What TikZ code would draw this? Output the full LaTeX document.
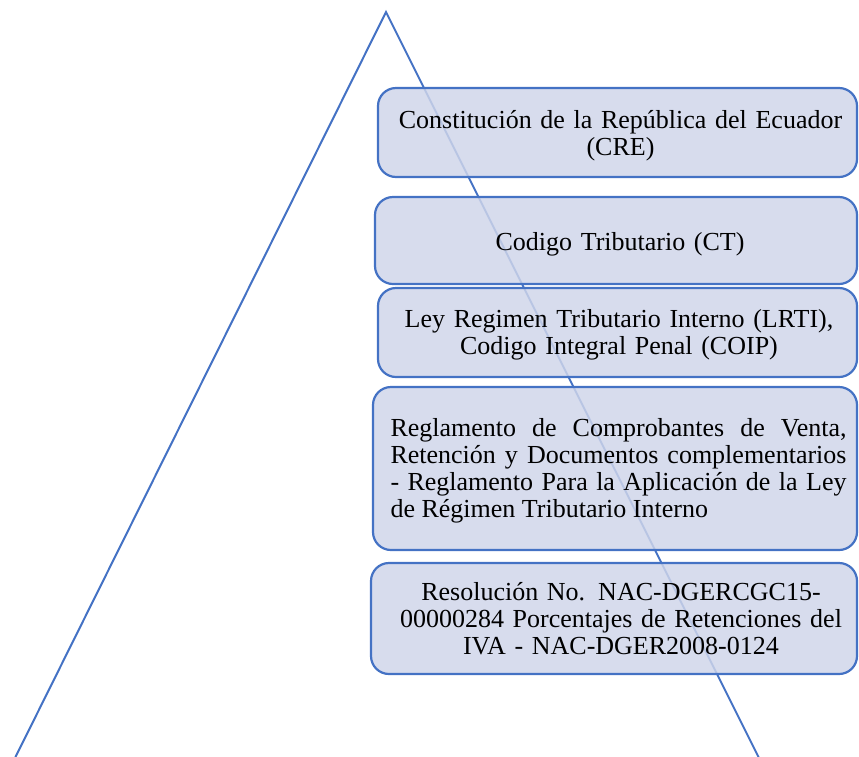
\documentclass[tikz,border=0pt]{standalone}
\usepackage{fontspec}
\setmainfont{Liberation Serif}
\definecolor{edgeblue}{HTML}{4472C4}
\definecolor{boxfill}{HTML}{CFD5EA}
\begin{document}
\begin{tikzpicture}[x=1pt,y=-1pt,
  lvl/.style={draw=edgeblue, line width=2.2pt, fill=boxfill, fill opacity=0.84,
    rounded corners=18pt, inner sep=0pt},
  lvltext/.style={inner sep=0pt, align=center, anchor=base,
    font=\fontsize{26}{27.3}\selectfont},
  ridge/.style={draw=edgeblue, line width=2pt}]
\useasboundingbox (0,0) rectangle (859,756);
\clip (0,0) rectangle (859,756);
% pyramid outline
\coordinate (apex) at (386,12);
\coordinate (bl) at (13,762);
\coordinate (br) at (761,762);
\draw[ridge] (bl) -- (apex) -- (br);
% levels of the hierarchy
\node[lvl, minimum width=479pt, minimum height=89pt] (cre) at (617.5,132.5) {};
\node[lvl, minimum width=482pt, minimum height=87pt] (ct) at (616,240.5) {};
\node[lvl, minimum width=479pt, minimum height=89pt] (lrti) at (617.5,332.5) {};
\node[lvl, minimum width=484pt, minimum height=163pt] (regl) at (615,468.5) {};
\node[lvl, minimum width=486pt, minimum height=111pt] (res) at (614,618.5) {};
% texts of the levels, placed by the baseline of their first line
\node[lvltext, text width=470pt] (cret) at (620.5,128)
  {Constitución de la República del Ecuador\\(CRE)};
\node[lvltext, text width=470pt] (ctt) at (620,250)
  {Codigo Tributario (CT)};
\node[lvltext, text width=470pt] (lrtit) at (619,327)
  {Ley Regimen Tributario Interno (LRTI),\\Codigo Integral Penal (COIP)};
\node[lvltext, text width=456pt, align=justify] (reglt) at (618.5,436)
  {\hyphenpenalty=10000 Reglamento de Comprobantes de Venta,\linebreak
   Retención y Documentos complementarios\linebreak
   - Reglamento Para la Aplicación de la Ley\linebreak
   de Régimen Tributario Interno};
\node[lvltext, text width=475pt] (rest) at (621,600)
  {Resolución No. NAC-DGERCGC15-\\00000284 Porcentajes de Retenciones del\\IVA - NAC-DGER2008-0124};
\end{tikzpicture}
\end{document}
